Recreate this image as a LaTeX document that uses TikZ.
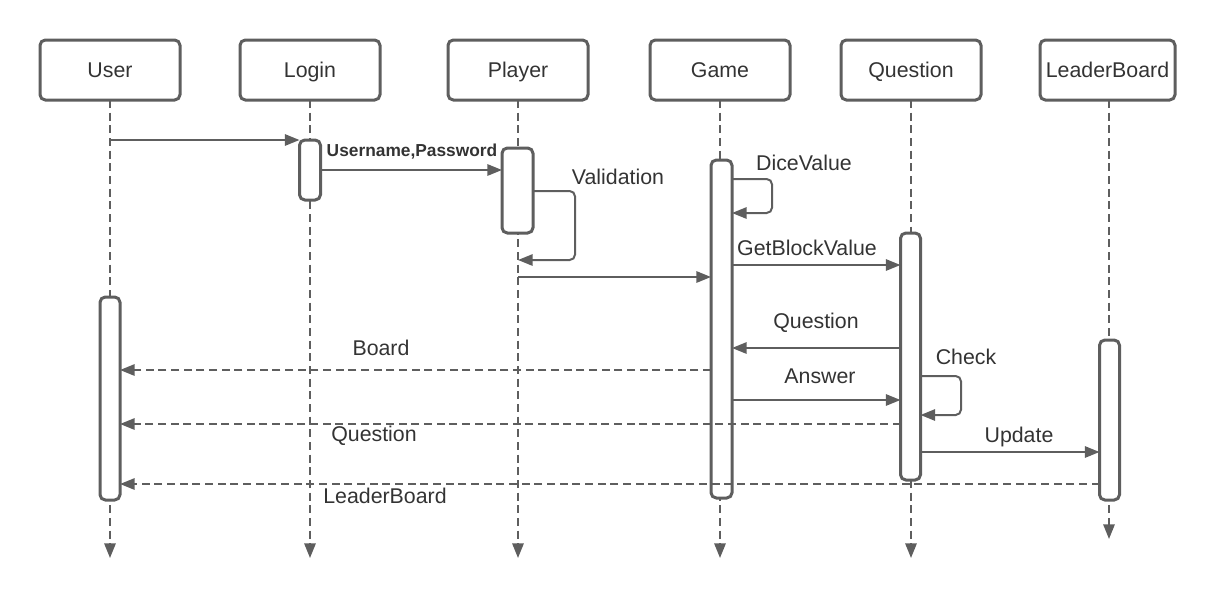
\documentclass[tikz,border=0pt]{standalone}
\usepackage{fontspec}
\setmainfont{Liberation Sans}
\usetikzlibrary{arrows.meta}
\definecolor{ln}{HTML}{5E5E5E}
\definecolor{tx}{HTML}{333333}
\begin{document}
\begin{tikzpicture}[x=0.75pt,y=-0.75pt,
  head/.style={draw=ln,line width=2.25pt,rounded corners=4pt,minimum width=105pt,minimum height=45pt,inner sep=0pt,outer sep=0pt,text=tx,font=\fontsize{16}{19}\selectfont,text height=14pt,text depth=3.5pt},
  act/.style={draw=ln,fill=white,line width=2.25pt,rounded corners=4pt,inner sep=0pt,outer sep=0pt},
  life/.style={draw=ln,line width=1.5pt,dash pattern=on 6pt off 3.5pt,-{Triangle[length=11pt,width=8.5pt]}},
  msg/.style={draw=ln,line width=1.5pt,-{Triangle[length=11pt,width=8.5pt]}},
  ret/.style={draw=ln,line width=1.5pt,dash pattern=on 6pt off 3.5pt,-{Triangle[length=11pt,width=8.5pt]}},
  lbl/.style={text=tx,font=\fontsize{16}{19}\selectfont,inner sep=0pt},
  blbl/.style={text=tx,font=\fontsize{13}{15}\bfseries\selectfont,inner sep=0pt}]
\useasboundingbox (0,0) rectangle (1220,597);
% headers
\node[head] (user) at (110,70) {User};
\node[head] (login) at (310,70) {Login};
\node[head] (player) at (518,70) {Player};
\node[head] (game) at (720,70) {Game};
\node[head] (question) at (911,70) {Question};
\node[head,minimum width=101.25pt] (leader) at (1107.5,70) {LeaderBoard};
% lifelines
\coordinate (uEnd) at (110,558);
\coordinate (lEnd) at (310,558);
\coordinate (pEnd) at (518,558);
\coordinate (gEnd) at (720,558);
\coordinate (qEnd) at (911,558);
\coordinate (lbEnd) at (1109,539);
\draw[life] (user.south) -- (uEnd);
\draw[life] (login.south) -- (lEnd);
\draw[life] (player.south) -- (pEnd);
\draw[life] (game.south) -- (gEnd);
\draw[life] (question.south) -- (qEnd);
\draw[life] (leader.south -| lbEnd) -- (lbEnd);
% activations
\node[act,minimum width=15pt,minimum height=152.25pt] (uAct) at (110,398.5) {};
\node[act,minimum width=15.75pt,minimum height=45pt] (lAct) at (310,170) {};
\node[act,minimum width=23.25pt,minimum height=63.75pt] (pAct) at (517.5,190.5) {};
\node[act,minimum width=15.75pt,minimum height=253.5pt] (gAct) at (721.5,329) {};
\node[act,minimum width=15pt,minimum height=185.25pt] (qAct) at (910.5,356.5) {};
\node[act,minimum width=15pt,minimum height=120pt] (lbAct) at (1109.5,420) {};
% messages
\draw[msg] (user.south |- 0,140) -- (lAct.north west);
\draw[msg] (lAct.east |- 0,170) -- (pAct.west |- 0,170);
\node[blbl] (lUP) at (412,152) {Username,Password};
\draw[msg,rounded corners=4pt] (pAct.east |- 0,191) -- (575,191) -- (575,260) -- (player.south |- 0,260);
\node[lbl] (lVal) at (618,177) {Validation};
\draw[msg] (player.south |- 0,277) -- (gAct.west |- 0,277);
\draw[msg,rounded corners=4pt] (gAct.east |- 0,179) -- (772,179) -- (772,213) -- (gAct.east |- 0,213);
\node[lbl] (lDice) at (804,163) {DiceValue};
\draw[msg] (gAct.east |- 0,265) -- (qAct.west |- 0,265);
\node[lbl] (lGet) at (807,248) {GetBlockValue};
\draw[msg] (qAct.west |- 0,348) -- (gAct.east |- 0,348);
\node[lbl] (lQ1) at (816,323) {Question};
\draw[ret] (gAct.west |- 0,370) -- (uAct.east |- 0,370);
\node[lbl] (lBoard) at (381,348) {Board};
\draw[msg] (gAct.east |- 0,400) -- (qAct.west |- 0,400);
\node[lbl] (lAns) at (820,376) {Answer};
\draw[msg,rounded corners=4pt] (qAct.east |- 0,376) -- (961,376) -- (961,415) -- (qAct.east |- 0,415);
\node[lbl] (lCheck) at (966,357) {Check};
\draw[ret] (qAct.west |- 0,424) -- (uAct.east |- 0,424);
\node[lbl] (lQ2) at (374,436) {Question};
\draw[msg] (qAct.east |- 0,452) -- (lbAct.west |- 0,452);
\node[lbl] (lUpd) at (1019,437) {Update};
\draw[ret] (lbAct.west |- 0,484) -- (uAct.east |- 0,484);
\node[lbl] (lLB) at (385,496) {LeaderBoard};
\end{tikzpicture}
\end{document}
